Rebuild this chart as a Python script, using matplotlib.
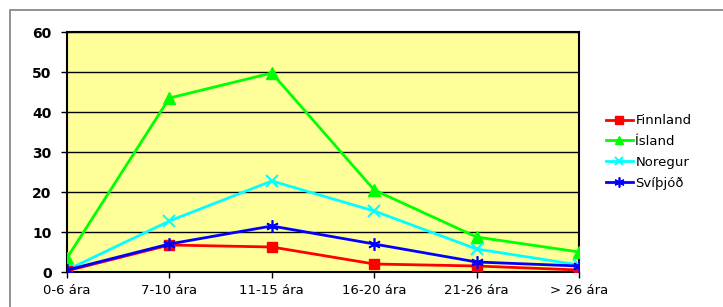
import matplotlib
matplotlib.use("Agg")
import matplotlib.pyplot as plt
from matplotlib.patches import Rectangle

categories = ["0-6 ára", "7-10 ára", "11-15 ára", "16-20 ára", "21-26 ára", "> 26 ára"]
finnland = [0.3, 6.75, 6.25, 2.0, 1.5, 0.5]
island = [3.5, 43.5, 49.75, 20.5, 8.75, 5.0]
noregur = [0.5, 12.75, 22.75, 15.25, 5.75, 1.75]
svithjod = [0.5, 7.0, 11.5, 7.0, 2.5, 1.5]

plt.rcParams['font.family'] = ['DejaVu Sans']

fig = plt.figure(figsize=(7.23, 3.07), dpi=100)
fig.patches.append(Rectangle((10 / 723, -0.1), 1.2, (307 - 10) / 307 + 0.1,
                             transform=fig.transFigure, fill=False,
                             edgecolor='#808080', linewidth=1.2))
ax = fig.add_axes([67 / 723, 35 / 307, 512 / 723, 240 / 307])
ax.set_facecolor('#ffff99')

x = list(range(len(categories)))
ax.plot(x, finnland, color='#ff0000', marker='s', markersize=7, lw=2, label='Finnland', zorder=5)
ax.plot(x, island, color='#00ff00', marker='^', markersize=8, lw=2, label='Ísland', zorder=3)
ax.plot(x, noregur, color='#00ffff', marker='x', markersize=8, mew=1.5, lw=2, label='Noregur', zorder=4)
ax.plot(x, svithjod, color='#0000ff', marker=(6, 2, 0), markersize=9, mew=1.2, lw=2, label='Svíþjóð', zorder=6)

ax.set_xlim(0, 5)
ax.set_ylim(0, 60)
ax.set_yticks(range(0, 61, 10))
ax.set_xticks(x)
ax.set_xticklabels(categories, fontsize=9.5)
for lbl in ax.get_yticklabels():
    lbl.set_fontweight('bold')
    lbl.set_fontsize(10)
ax.grid(axis='y', color='black', lw=1)
ax.set_axisbelow(True)
ax.tick_params(axis='both', length=4, width=1, direction='out')
ax.tick_params(axis='y', pad=7)
ax.tick_params(axis='x', pad=5)
for s in ax.spines.values():
    s.set_linewidth(1.5)

ax.legend(loc='center left', bbox_to_anchor=(1.03, 0.5), frameon=False,
          fontsize=9.5, handlelength=2.0, handletextpad=0.2, labelspacing=0.6,
          markerscale=0.8)

fig.savefig("out.png", dpi=100)
